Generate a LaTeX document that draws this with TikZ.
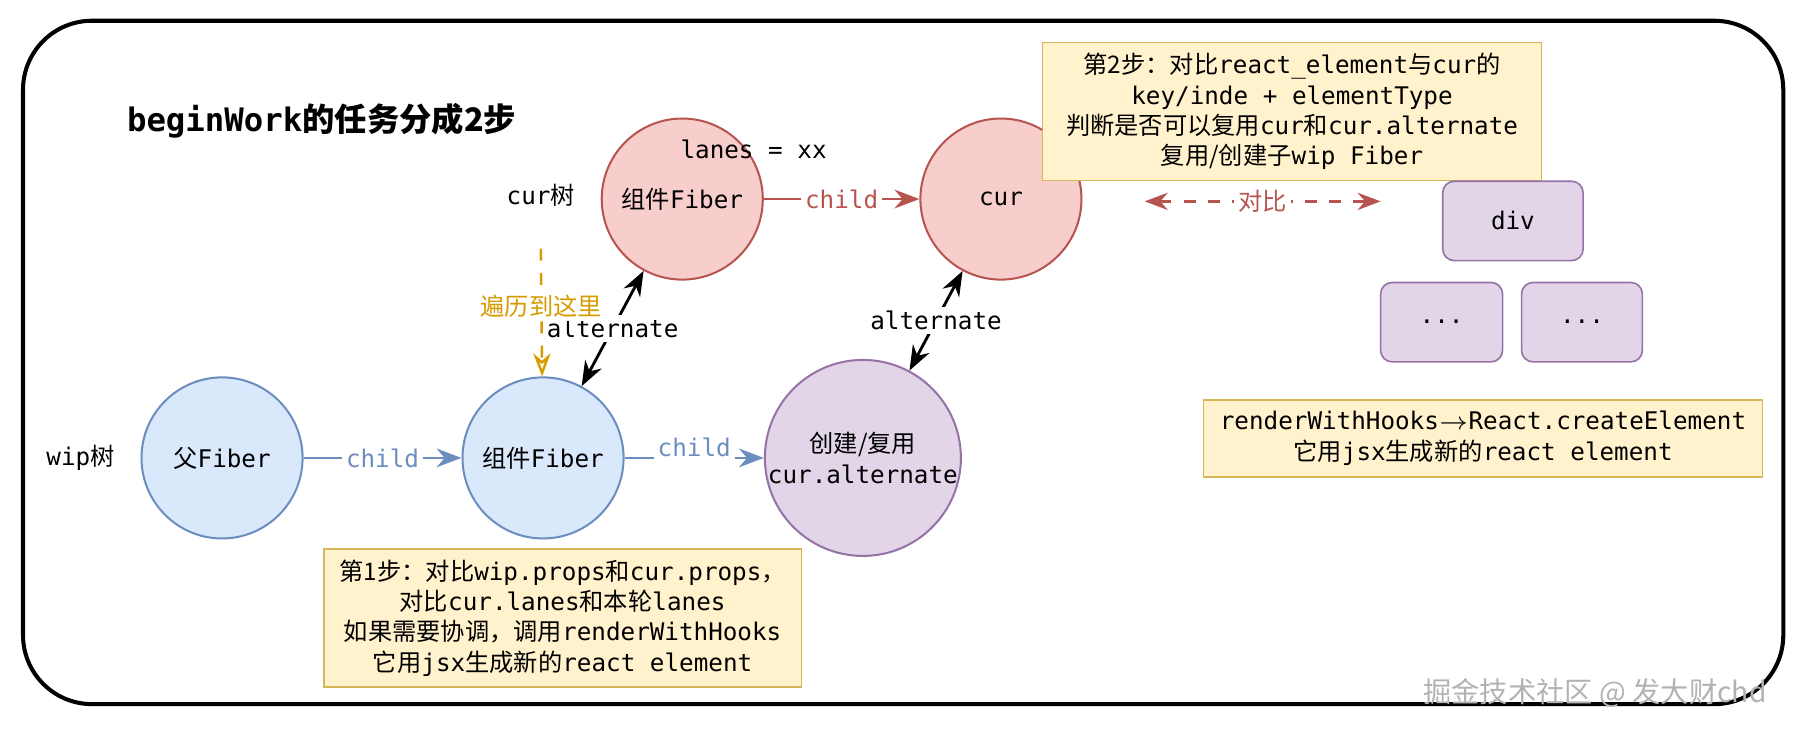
\documentclass[tikz,border=0pt]{standalone}
\usepackage{fontspec}
\setmainfont{DejaVu Sans Mono}
\newfontfamily\cjk{Noto Sans CJK SC}
\newcommand\zh[1]{{\cjk #1}}
\usetikzlibrary{arrows.meta}
\definecolor{redfill}{HTML}{F8CECC}\definecolor{redline}{HTML}{B85450}
\definecolor{bluefill}{HTML}{DAE8FC}\definecolor{blueline}{HTML}{6C8EBF}
\definecolor{purfill}{HTML}{E1D5E7}\definecolor{purline}{HTML}{9673A6}
\definecolor{notefill}{HTML}{FFF2CC}\definecolor{noteline}{HTML}{D6B656}
\definecolor{orangeline}{HTML}{D79B00}

\begin{document}
\begin{tikzpicture}[x=0.1mm,y=-0.1mm,font=\fontsize{6}{7.5}\selectfont,
    fiber/.style={draw,circle,minimum size=14mm,inner sep=0pt,line width=0.5pt,align=center},
    redfiber/.style={fiber,fill=redfill,draw=redline},
    bluefiber/.style={fiber,fill=bluefill,draw=blueline},
    purfiber/.style={fiber,fill=purfill,draw=purline},
    note/.style={draw=noteline,fill=notefill,align=center,inner sep=0pt,line width=0.4pt},
    elem/.style={draw=purline,fill=purfill,rounded corners=1mm,inner sep=0pt,line width=0.4pt},
    lbl/.style={fill=white,inner sep=1pt}]
        \useasboundingbox (0,0) rectangle (1568,633);
        \draw[line width=1pt,rounded corners=6mm] (20,18) rectangle (1550,612);

        \node[anchor=west,font=\fontsize{8}{9}\bfseries] (title) at (98,105) {beginWork\zh{的任务分成2步}};

        % cur tree
        \node[redfiber] (curcomp) at (593,173) {\zh{组件}Fiber};
        \node[redfiber] (cur) at (870,173) {cur};
        \node (lanes) at (655,130) {lanes = xx};
        \node (curtree) at (470,170) {cur\zh{树}};

        % wip tree
        \node[bluefiber] (parent) at (193,398) {\zh{父}Fiber};
        \node[bluefiber] (wipcomp) at (472,398) {\zh{组件}Fiber};
        \node[purfiber] (alt) at (750,398) {\zh{创建/复用}\\cur.alternate};
        \node (wiptree) at (70,398) {wip\zh{树}};

        \draw[-Stealth,redline,line width=0.7pt] (curcomp) -- (cur) node[midway,lbl] {child};
        \draw[-Stealth,blueline,line width=0.7pt] (parent) -- (wipcomp) node[midway,lbl] {child};
        \draw[-Stealth,blueline,line width=0.7pt] (wipcomp) -- (alt) node[midway,lbl,above=-1pt] {child};

        \draw[Stealth-Stealth,line width=0.7pt] (wipcomp) -- (curcomp) node[midway,lbl] {alternate};
        \draw[Stealth-Stealth,line width=0.7pt] (alt) -- (cur) node[midway,lbl] {alternate};

        \coordinate (visit) at (470,216);
        \draw[-{Stealth[open]},orangeline,dashed,line width=0.6pt] (visit) -- (wipcomp) node[pos=0.45,lbl] {\zh{遍历到这里}};

        % notes
        \node[note,minimum width=43.4mm,minimum height=12mm] (note2) at (1123,97)
            {\zh{第2步：对比}react\_element\zh{与}cur\zh{的}\\key/inde + elementType\\\zh{判断是否可以复用}cur\zh{和}cur.alternate\\\zh{复用/创建子}wip Fiber};
        \node[note,minimum width=48.6mm,minimum height=6.7mm] (note3) at (1289,381)
            {renderWithHooks$\rightarrow$React.createElement\\\zh{它用}jsx\zh{生成新的}react element};
        \node[note,minimum width=41.5mm,minimum height=12mm] (note1) at (489,537)
            {\zh{第1步：对比}wip.props\zh{和}cur.props\zh{，}\\\zh{对比}cur.lanes\zh{和本轮}lanes\\\zh{如果需要协调，调用}renderWithHooks\\\zh{它用}jsx\zh{生成新的}react element};

        % react elements
        \node[elem,minimum width=12.2mm,minimum height=6.9mm] (div) at (1315,192) {div};
        \node[elem,minimum width=10.6mm,minimum height=6.9mm] (dots1) at (1253,280) {...};
        \node[elem,minimum width=10.5mm,minimum height=6.9mm] (dots2) at (1375,280) {...};

        \coordinate (cmpl) at (995,175);
        \coordinate (cmpr) at (1200,175);
        \draw[Stealth-Stealth,redline,dashed,line width=0.6pt] (cmpl) -- (cmpr) node[midway,lbl] {\zh{对比}};

        \node[anchor=east,gray!60,font=\fontsize{7}{8}\cjk] (mark) at (1548,602) {掘金技术社区 @ 发大财chd};
      \end{tikzpicture}
\end{document}
